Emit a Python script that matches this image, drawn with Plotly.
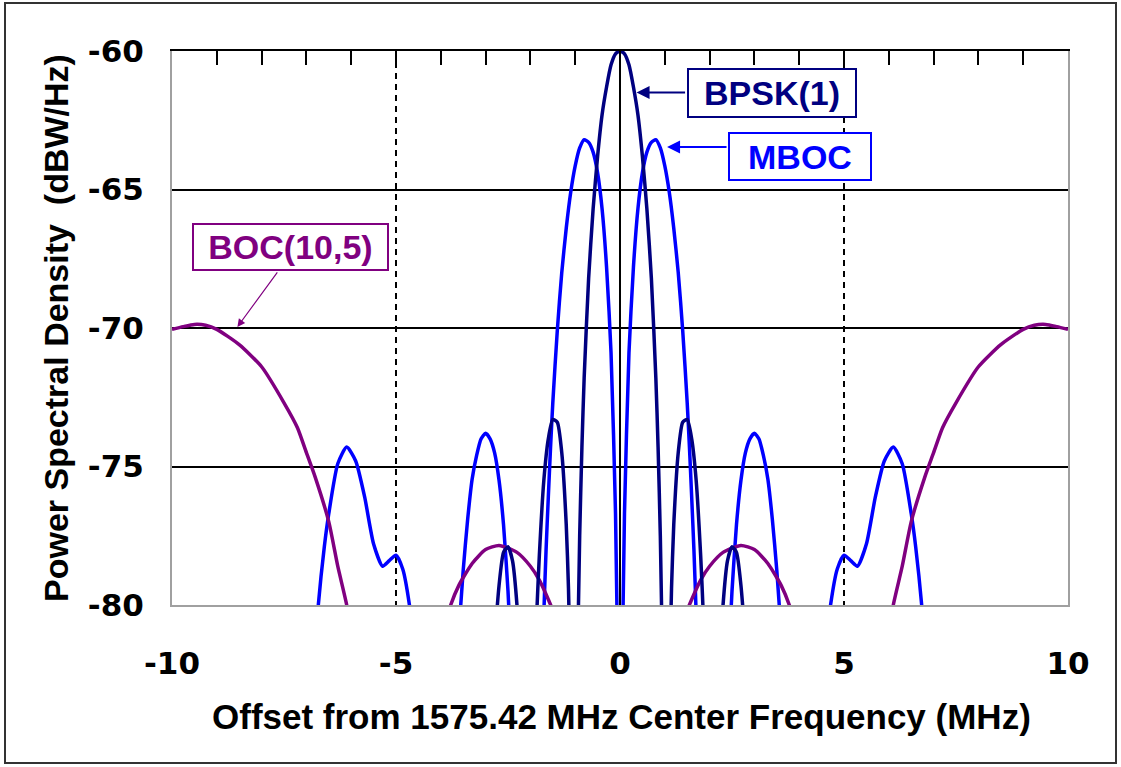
import plotly.graph_objects as go

# ---------------- data ----------------
# BPSK(1) PSD, dBW/Hz  (None = gap below the visible range)
bpsk_f = [-2.82, -2.7, -2.6, -2.5, -2.4, -2.3, -2.22, None,
          -1.93, -1.85, -1.8, -1.7, -1.6, -1.5, -1.4, -1.3, -1.2, -1.15, -1.1, None,
          -0.97, -0.95, -0.9, -0.85, -0.8, -0.7, -0.6, -0.5, -0.4, -0.3, -0.2, -0.1, 0.0,
          0.1, 0.2, 0.3, 0.4, 0.5, 0.6, 0.7, 0.8, 0.85, 0.9, 0.95, 0.97, None,
          1.1, 1.15, 1.2, 1.3, 1.4, 1.5, 1.6, 1.7, 1.8, 1.85, 1.93, None,
          2.22, 2.3, 2.4, 2.5, 2.6, 2.7, 2.82]
bpsk_v = [-81.8, -79.3, -78.1, -77.9, -78.4, -80.0, -82.5, None,
          -83.5, -80.0, -78.2, -75.5, -74.0, -73.3, -73.4, -74.5, -77.1, -79.4, -83.0, None,
          -85.0, -82.4, -77.5, -74.3, -71.8, -68.2, -65.7, -63.8, -62.3, -61.3, -60.5, -60.1, -60.0,
          -60.1, -60.5, -61.3, -62.3, -63.8, -65.7, -68.2, -71.8, -74.3, -77.5, -82.4, -85.0, None,
          -83.0, -79.4, -77.1, -74.5, -73.4, -73.3, -74.0, -75.5, -78.2, -80.0, -83.5, None,
          -82.5, -80.0, -78.4, -77.9, -78.1, -79.3, -81.8]

# MBOC PSD, dBW/Hz
mboc_f = [-6.9, -6.75, -6.6, -6.5, -6.3, -6.1, -5.9, -5.7, -5.5, -5.3, -5.15, -5.0, -4.85, -4.7, -4.6, None,
          -3.7, -3.6, -3.5, -3.4, -3.3, -3.2, -3.1, -3.0, -2.9, -2.8, -2.7, -2.6, -2.5, -2.4, None,
          -1.8, -1.7, -1.65, -1.6, -1.55, -1.5, -1.4, -1.3, -1.2, -1.1, -1.0, -0.9, -0.8, -0.7, -0.6,
          -0.5, -0.4, -0.3, -0.2, -0.1, -0.05, 0.0,
          0.05, 0.1, 0.2, 0.3, 0.4, 0.5, 0.6, 0.7, 0.8, 0.9, 1.0, 1.1, 1.2, 1.3, 1.4, 1.5, 1.55,
          1.6, 1.65, 1.7, 1.8, None,
          2.4, 2.5, 2.6, 2.7, 2.8, 2.9, 3.0, 3.1, 3.2, 3.3, 3.4, 3.5, 3.6, 3.7, None,
          4.6, 4.7, 4.85, 5.0, 5.15, 5.3, 5.5, 5.7, 5.9, 6.1, 6.3, 6.5, 6.6, 6.75, 6.9]
mboc_v = [-84.0, -80.3, -77.9, -76.7, -74.9, -74.3, -74.8, -76.1, -77.8, -78.6, -78.4, -78.2, -78.7, -80.0, -81.5, None,
          -83.8, -81.1, -78.75, -76.9, -75.45, -74.6, -74.0, -73.8, -74.0, -74.5, -75.5, -77.1, -79.5, -82.7, None,
          -86.0, -80.3, -78.0, -76.1, -74.3, -72.7, -70.1, -68.0, -66.4, -65.1, -64.15, -63.5, -63.2, -63.3, -63.65,
          -64.4, -65.7, -67.8, -70.9, -76.7, -82.7, -95.0,
          -82.7, -76.7, -70.9, -67.8, -65.7, -64.4, -63.65, -63.3, -63.2, -63.5, -64.15, -65.1, -66.4, -68.0, -70.1, -72.7, -74.3,
          -76.1, -78.0, -80.3, -86.0, None,
          -82.7, -79.5, -77.1, -75.5, -74.5, -74.0, -73.8, -74.0, -74.6, -75.45, -76.9, -78.75, -81.1, -83.8, None,
          -81.5, -80.0, -78.7, -78.2, -78.4, -78.6, -77.8, -76.1, -74.8, -74.3, -74.9, -76.7, -77.9, -80.3, -84.0]

# BOC(10,5) PSD, dBW/Hz
boc_f = [-10.0, -9.75, -9.5, -9.25, -9.0, -8.5, -8.0, -7.5, -7.2, -7.0, -6.8, -6.5, -6.3, -6.1, -5.95, None,
         -3.95, -3.8, -3.6, -3.3, -3.0, -2.7, -2.3, -2.0, -1.8, -1.6, -1.45, -1.35, None,
         1.35, 1.45, 1.6, 1.8, 2.0, 2.3, 2.7, 3.0, 3.3, 3.6, 3.8, 3.95, None,
         5.95, 6.1, 6.3, 6.5, 6.8, 7.0, 7.2, 7.5, 8.0, 8.5, 9.0, 9.25, 9.5, 9.75, 10.0]
boc_v = [-70.05, -69.95, -69.87, -69.9, -70.05, -70.6, -71.4, -72.7, -73.6, -74.5, -75.4, -77.0, -78.6, -80.0, -81.5, None,
         -81.0, -80.1, -79.3, -78.5, -78.0, -77.85, -78.1, -78.6, -79.1, -79.8, -80.4, -80.9, None,
         -80.9, -80.4, -79.8, -79.1, -78.6, -78.1, -77.85, -78.0, -78.5, -79.3, -80.1, -81.0, None,
         -81.5, -80.0, -78.6, -77.0, -75.4, -74.5, -73.6, -72.7, -71.4, -70.6, -70.05, -69.9, -69.87, -69.95, -70.05]

x_ticks = [-10, -5, 0, 5, 10]
x_ticktext = ["-10", "-5", "0", "5", "10"]
y_ticks = [-80, -75, -70, -65, -60]
y_ticktext = ["-80", "-75", "-70", "-65", "-60"]

NAVY = "#000080"
BLUE = "#0000FF"
PURPLE = "#800080"
FONT = "Liberation Sans, Arial, sans-serif"
TICKFONT = "DejaVu Sans, Liberation Sans, sans-serif"
CLEAR = "rgba(0,0,0,0)"

fig = go.Figure()
fig.add_trace(go.Scatter(x=mboc_f, y=mboc_v, mode="lines", name="MBOC",
                         line=dict(color=BLUE, width=3.5, shape="spline", smoothing=0.6),
                         connectgaps=False, showlegend=False))
fig.add_trace(go.Scatter(x=boc_f, y=boc_v, mode="lines", name="BOC(10,5)",
                         line=dict(color=PURPLE, width=3.5, shape="spline", smoothing=0.6),
                         connectgaps=False, showlegend=False))
fig.add_trace(go.Scatter(x=bpsk_f, y=bpsk_v, mode="lines", name="BPSK(1)",
                         line=dict(color=NAVY, width=3.5, shape="spline", smoothing=0.6),
                         connectgaps=False, showlegend=False))
# transparent copy on the top axis so that axis (frame line + ticks) is drawn
fig.add_trace(go.Scatter(x=bpsk_f, y=bpsk_v, mode="lines", xaxis="x2", yaxis="y",
                         line=dict(color=CLEAR, width=0),
                         showlegend=False, hoverinfo="skip"))

fig.update_layout(
    width=1121, height=767,
    margin=dict(l=172, r=53, t=51, b=162),
    paper_bgcolor="white", plot_bgcolor="white",
    font=dict(family=FONT, color="black"),
    xaxis=dict(range=[-10, 10], tickvals=x_ticks, ticktext=x_ticktext,
               tickfont=dict(size=31, family=TICKFONT, weight="bold"),
               ticks="outside", ticklen=30, tickcolor=CLEAR, automargin=False,
               showgrid=True, gridcolor="black", gridwidth=2, griddash="6px,5px",
               zeroline=True, zerolinecolor="black", zerolinewidth=2,
               showline=True, linecolor="#a0a0a0", linewidth=2, mirror=False),
    xaxis2=dict(range=[-10, 10], overlaying="x", side="top", anchor="y",
                tickmode="linear", tick0=-10, dtick=1,
                ticks="inside", ticklen=14, tickwidth=2, tickcolor="black",
                showticklabels=True, tickfont=dict(size=10, color=CLEAR),
                showgrid=False, zeroline=False,
                showline=True, linecolor="black", linewidth=2),
    yaxis=dict(range=[-80, -60], tickvals=y_ticks, ticktext=y_ticktext,
               tickfont=dict(size=31, family=TICKFONT, weight="bold"),
               ticks="outside", ticklen=20, tickcolor=CLEAR, automargin=False,
               showgrid=True, gridcolor="black", gridwidth=2,
               zeroline=False,
               showline=True, linecolor="#a0a0a0", linewidth=2, mirror=True),
)

# axis titles
fig.add_annotation(xref="paper", yref="paper", x=0.502, y=-0.202,
                   text="<b>Offset from 1575.42 MHz Center Frequency (MHz)</b>",
                   showarrow=False, font=dict(size=35, family=FONT, color="black"),
                   xanchor="center", yanchor="middle")
fig.add_annotation(xref="paper", yref="paper", x=-0.1295, y=0.5, textangle=-90,
                   text="<b>Power Spectral Density  (dBW/Hz)</b>",
                   showarrow=False, font=dict(size=34, family=FONT, color="black"),
                   xanchor="center", yanchor="middle")

# labels with arrows
fig.add_annotation(x=3.39, y=-61.5, xref="x", yref="y", text="<b>BPSK(1)</b>",
                   showarrow=False, font=dict(size=34, family=FONT, color=NAVY),
                   bgcolor="white", bordercolor=NAVY, borderwidth=2, borderpad=0,
                   width=166, height=46)
fig.add_annotation(x=0.37, y=-61.5, xref="x", yref="y", text="",
                   showarrow=True, ax=50, ay=0, arrowhead=2, arrowsize=1.3,
                   arrowwidth=2, arrowcolor=NAVY)
fig.add_annotation(x=4.02, y=-63.8, xref="x", yref="y", text="<b>MBOC</b>",
                   showarrow=False, font=dict(size=34, family=FONT, color=BLUE),
                   bgcolor="white", bordercolor=BLUE, borderwidth=2, borderpad=0,
                   width=140, height=45)
fig.add_annotation(x=1.05, y=-63.47, xref="x", yref="y", text="",
                   showarrow=True, ax=61, ay=0, arrowhead=2, arrowsize=1.3,
                   arrowwidth=2, arrowcolor=BLUE)
fig.add_annotation(x=-7.35, y=-67.08, xref="x", yref="y", text="<b>BOC(10,5)</b>",
                   showarrow=False, font=dict(size=34, family=FONT, color=PURPLE),
                   bgcolor="white", bordercolor=PURPLE, borderwidth=2, borderpad=0,
                   width=193, height=44)
fig.add_annotation(x=-8.54, y=-69.96, xref="x", yref="y", text="",
                   showarrow=True, ax=41, ay=-56, arrowhead=2, arrowsize=1.3,
                   arrowwidth=1.2, arrowcolor=PURPLE)

# outer border of the figure
fig.add_shape(type="rect", xref="paper", yref="paper",
              x0=(5 - 172) / 896, x1=(1116 - 172) / 896,
              y0=(605 - 763) / 554, y1=(605 - 3) / 554,
              line=dict(color="#333333", width=2), layer="below")

fig.write_html("out.html")
